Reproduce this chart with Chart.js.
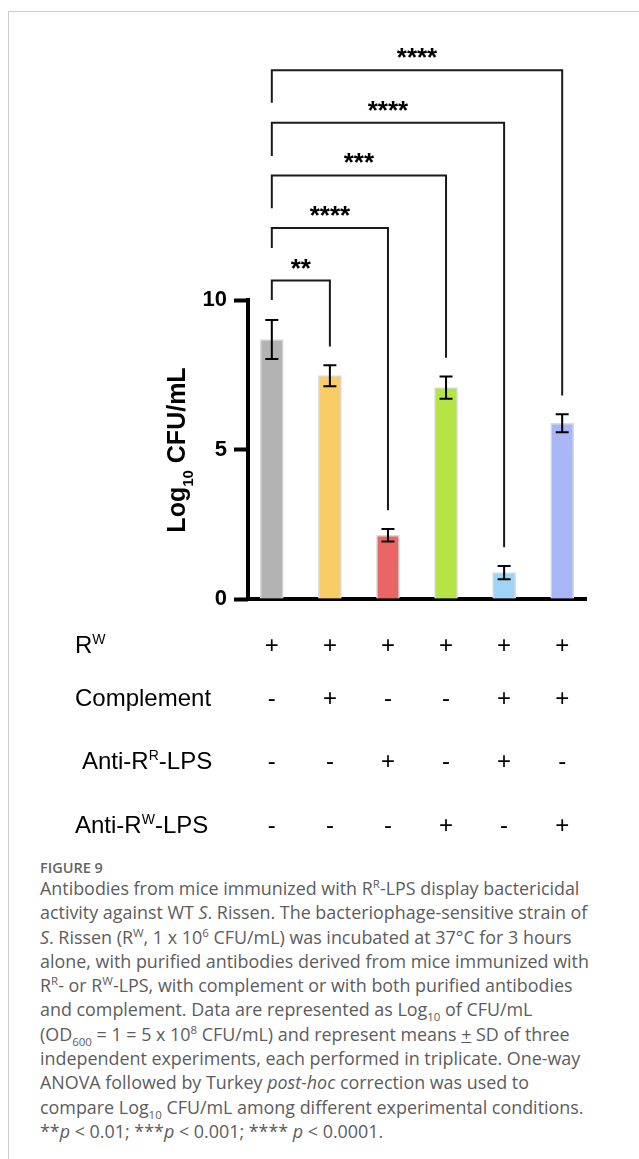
<!DOCTYPE html>
<html>
<head>
<meta charset="utf-8">
<script src="https://cdn.jsdelivr.net/npm/chart.js@4.4.1/dist/chart.umd.min.js"></script>
<style>
    html, body { margin: 0; padding: 0; background: #fff; }
    body { width: 639px; height: 1159px; position: relative; overflow: hidden; }
    #frame { position: absolute; left: 8px; top: 11px; width: 700px; height: 1200px; border-left: 1px solid #cfcfcf; border-top: 1px solid #cfcfcf; }
    #chart-box { position: absolute; left: 0; top: 0; width: 639px; height: 850px; }
    #fig-title { position: absolute; left: 40px; top: 858px; font-family: "Open Sans"; font-weight: 600; font-size: 14.5px; line-height: 20px; color: #646464; }
    #caption { position: absolute; left: 40px; top: 876px; font-family: "Open Sans"; font-size: 17.9px; line-height: 24.3px; color: #5c5c5c; white-space: nowrap; }
    #caption sup, #caption sub { font-size: 11.5px; line-height: 0; }
</style>
</head>
<body>
<div id="frame"></div>
<div id="chart-box"><canvas id="chart" width="639" height="850"></canvas></div>
<div id="fig-title">FIGURE 9</div>
<div id="caption">
    <div>Antibodies from mice immunized with R<sup>R</sup>-LPS display bactericidal</div>
    <div>activity against WT <i>S</i>. Rissen. The bacteriophage-sensitive strain of</div>
    <div><i>S</i>. Rissen (R<sup>W</sup>, 1 x 10<sup>6</sup> CFU/mL) was incubated at 37°C for 3 hours</div>
    <div>alone, with purified antibodies derived from mice immunized with</div>
    <div>R<sup>R</sup>- or R<sup>W</sup>-LPS, with complement or with both purified antibodies</div>
    <div>and complement. Data are represented as Log<sub>10</sub> of CFU/mL</div>
    <div>(OD<sub>600</sub> = 1 = 5 x 10<sup>8</sup> CFU/mL) and represent means <u>+</u> SD of three</div>
    <div>independent experiments, each performed in triplicate. One-way</div>
    <div>ANOVA followed by Turkey <i>post-hoc</i> correction was used to</div>
    <div>compare Log<sub>10</sub> CFU/mL among different experimental conditions.</div>
    <div>**<i>p</i> &lt; 0.01; ***<i>p</i> &lt; 0.001; **** <i>p</i> &lt; 0.0001.</div>
</div>
<script>
// ====== DATA ======
const groups = ['RW', 'RW + C', 'RW + anti-RR', 'RW + anti-RW', 'RW + C + anti-RR', 'RW + C + anti-RW'];
const meanValues = [8.68, 7.47, 2.13, 7.07, 0.88, 5.88];
const sdValues = [0.65, 0.35, 0.21, 0.37, 0.22, 0.30];
const barColors = ['#b3b3b3', '#f8cd67', '#e96566', '#b4e545', '#a0d4f6', '#a7b7f6'];
const yTickValues = [0, 5, 10];

// significance brackets (all against the first group)
const bracketTargets = [1, 2, 3, 4, 5];
const bracketLevels = [10.65, 12.41, 14.17, 15.93, 17.69];
const bracketLeftEnds = [10.0, 11.74, 13.07, 14.82, 16.6];
const bracketLabels = ['**', '****', '***', '****', '****'];

// condition table under the bars
const rowRW = ['+', '+', '+', '+', '+', '+'];
const rowComplement = ['-', '+', '-', '-', '+', '+'];
const rowAntiRR = ['-', '-', '+', '-', '+', '-'];
const rowAntiRW = ['-', '-', '-', '+', '-', '+'];

const FONT = '"Liberation Sans", Arial, sans-serif';

const tableRows = [
    { label: [['R'], ['W', 'sup']], signs: rowRW, x: 75, y: 653 },
    { label: [['Complement']], signs: rowComplement, x: 75, y: 706 },
    { label: [['Anti-R'], ['R', 'sup'], ['-LPS']], signs: rowAntiRR, x: 82, y: 769 },
    { label: [['Anti-R'], ['W', 'sup'], ['-LPS']], signs: rowAntiRW, x: 75, y: 833 },
];

function drawParts(ctx, parts, x, y, size, subSize, weight) {
    parts.forEach(([text, kind]) => {
        let dy = 0;
        let fs = size;
        if (kind === 'sup') { fs = subSize; dy = -9; }
        if (kind === 'sub') { fs = subSize; dy = 8; }
        ctx.font = `${weight} ${fs}px ${FONT}`;
        ctx.fillText(text, x, y + dy);
        x += ctx.measureText(text).width;
    });
}

function partsWidth(ctx, parts, size, subSize, weight) {
    let w = 0;
    parts.forEach(([text, kind]) => {
        ctx.font = `${weight} ${kind ? subSize : size}px ${FONT}`;
        w += ctx.measureText(text).width;
    });
    return w;
}

const annotate = {
    id: 'annotate',
    afterDatasetsDraw(chart) {
        const { ctx, scales: { x, y } } = chart;
        ctx.save();
        ctx.strokeStyle = '#000';
        ctx.lineWidth = 2;
        meanValues.forEach((m, i) => {
            const cx = x.getPixelForValue(i);
            const top = y.getPixelForValue(m + sdValues[i]);
            const bottom = y.getPixelForValue(m - sdValues[i]);
            ctx.beginPath();
            ctx.moveTo(cx, top);
            ctx.lineTo(cx, bottom);
            ctx.moveTo(cx - 6.5, top);
            ctx.lineTo(cx + 6.5, top);
            ctx.moveTo(cx - 6.5, bottom);
            ctx.lineTo(cx + 6.5, bottom);
            ctx.stroke();
        });
        ctx.restore();
    },
    afterDraw(chart) {
        const { ctx, chartArea, scales: { x, y } } = chart;
        ctx.save();

        // y axis line, only up to the last tick
        ctx.strokeStyle = '#000';
        ctx.lineWidth = 4;
        ctx.beginPath();
        ctx.moveTo(chartArea.left, y.getPixelForValue(0) + 2);
        ctx.lineTo(chartArea.left, y.getPixelForValue(10) - 2);
        ctx.stroke();

        // brackets
        ctx.strokeStyle = '#1a1a1a';
        ctx.lineWidth = 2;
        ctx.fillStyle = '#000';
        ctx.textAlign = 'center';
        ctx.textBaseline = 'alphabetic';
        bracketTargets.forEach((j, k) => {
            const x0 = x.getPixelForValue(0);
            const x1 = x.getPixelForValue(j);
            const ly = y.getPixelForValue(bracketLevels[k]);
            const leftEnd = y.getPixelForValue(bracketLeftEnds[k]);
            const rightEnd = y.getPixelForValue(meanValues[j] + sdValues[j] + 0.63);
            ctx.beginPath();
            ctx.moveTo(x0, leftEnd);
            ctx.lineTo(x0, ly);
            ctx.lineTo(x1, ly);
            ctx.lineTo(x1, rightEnd);
            ctx.stroke();
            ctx.font = `bold 26px ${FONT}`;
            ctx.fillText(bracketLabels[k], (x0 + x1) / 2, ly - 4);
        });

        // y axis title with subscript
        const title = [['Log'], ['10', 'sub'], [' CFU/mL']];
        ctx.translate(176, 450);
        ctx.rotate(-Math.PI / 2);
        ctx.textAlign = 'left';
        const tw = partsWidth(ctx, title, 25, 15, 'bold');
        drawParts(ctx, title, -tw / 2, 9, 25, 15, 'bold');
        ctx.setTransform(1, 0, 0, 1, 0, 0);

        // condition table
        ctx.fillStyle = '#000';
        tableRows.forEach(row => {
            ctx.textAlign = 'left';
            drawParts(ctx, row.label, row.x, row.y, 24, 14, 'normal');
            ctx.textAlign = 'center';
            ctx.font = `normal 24px ${FONT}`;
            row.signs.forEach((s, i) => {
                ctx.fillText(s, x.getPixelForValue(i), row.y);
            });
        });

        ctx.restore();
    }
};

new Chart(document.getElementById('chart'), {
    type: 'bar',
    data: {
        labels: groups,
        datasets: [{
            data: meanValues.map((v, i) => ({ x: i, y: v })),
            backgroundColor: barColors,
            borderColor: '#dadada',
            borderWidth: 1.5,
            barThickness: 23,
        }]
    },
    options: {
        responsive: false,
        animation: false,
        events: [],
        layout: { padding: { left: 0, right: 53, top: 31, bottom: 251 } },
        plugins: { legend: { display: false }, tooltip: { enabled: false } },
        scales: {
            x: {
                type: 'linear',
                min: -0.41,
                max: 5.41,
                offset: false,
                z: 1,
                ticks: { display: false },
                grid: { display: false, drawTicks: false },
                border: { display: true, width: 4, color: '#000' },
                afterFit: s => { s.height = 0; }
            },
            y: {
                min: 0,
                max: 19,
                z: 1,
                afterBuildTicks: s => { s.ticks = yTickValues.map(v => ({ value: v })); },
                afterFit: s => { s.width = 248; },
                border: { display: false },
                grid: { drawOnChartArea: false, tickLength: 14, tickWidth: 4, tickColor: '#000' },
                ticks: { padding: 7, color: '#000', font: { family: FONT, weight: 'bold', size: 22 } }
            }
        }
    },
    plugins: [annotate]
});
</script>
</body>
</html>
